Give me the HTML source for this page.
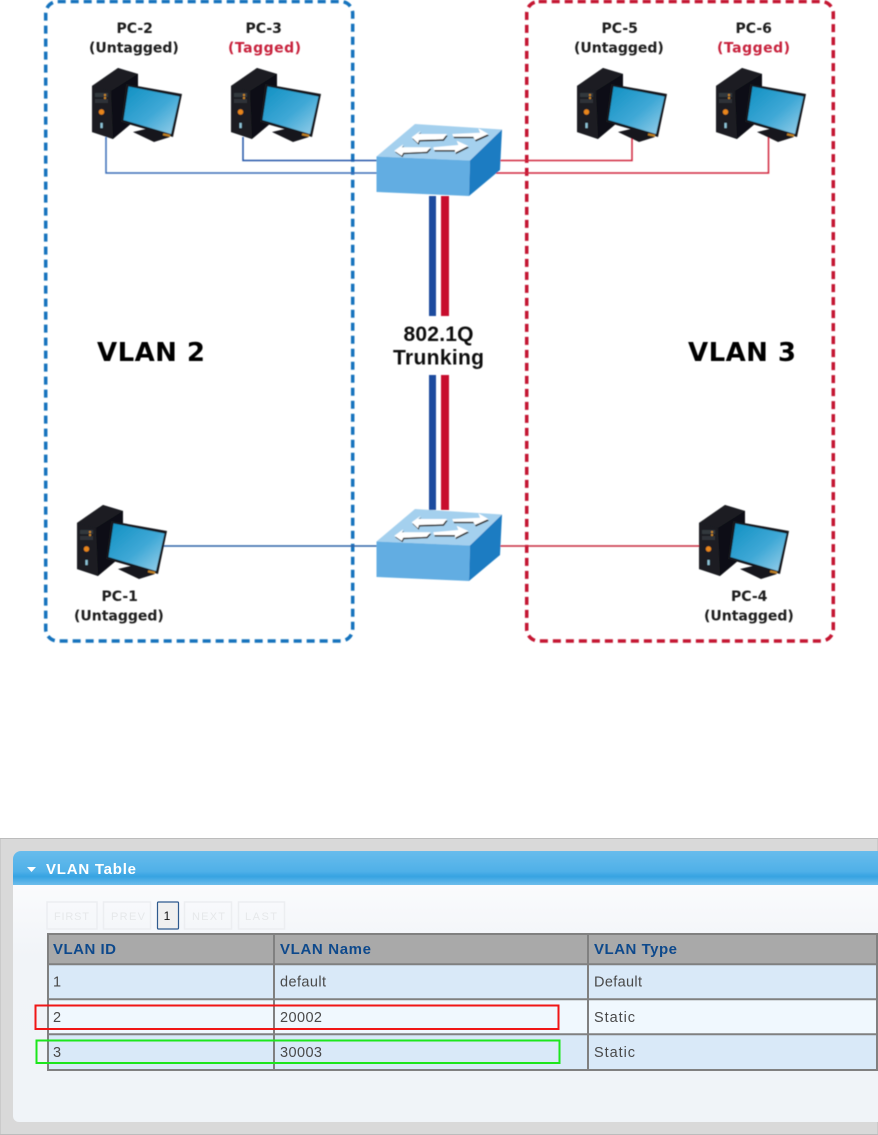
<!DOCTYPE html>
<html><head><meta charset="utf-8"><style>html,body{margin:0;padding:0;background:#fff}svg{display:block}
.b{font-family:"DejaVu Sans",sans-serif;font-weight:bold}
.t{font-family:"Liberation Sans",sans-serif;font-size:14.5px;fill:#4a4a4a}
.h{font-family:"Liberation Sans",sans-serif;font-weight:bold;font-size:15px;fill:#114a8c}
.g{font-family:"Liberation Sans",sans-serif;font-size:11px;fill:#e6e8ea}
</style></head><body>
<svg width="878" height="1135" viewBox="0 0 878 1135" xmlns="http://www.w3.org/2000/svg">
<defs>
<filter id="s1" x="0" y="0" width="878" height="1135" filterUnits="userSpaceOnUse"><feGaussianBlur stdDeviation="0.45"/></filter>
<filter id="s2" x="0" y="0" width="878" height="1135" filterUnits="userSpaceOnUse"><feGaussianBlur stdDeviation="0.3"/></filter>
<linearGradient id="scr" x1="0" y1="0" x2="1" y2="1"><stop offset="0" stop-color="#1090c2"/><stop offset=".55" stop-color="#3fa8d6"/><stop offset="1" stop-color="#9ad0ea"/></linearGradient>
<linearGradient id="hd" x1="0" y1="0" x2="0" y2="1"><stop offset="0" stop-color="#68bcec"/><stop offset=".6" stop-color="#4fb0e8"/><stop offset=".75" stop-color="#36a3e2"/><stop offset="1" stop-color="#6dbdec"/></linearGradient>
<linearGradient id="bd" x1="0" y1="0" x2="0" y2="1"><stop offset="0" stop-color="#fafbfd"/><stop offset=".3" stop-color="#f1f4f8"/><stop offset="1" stop-color="#f0f4f8"/></linearGradient>
<g id="pc">
<polygon points="0,18 26,0 46,6 46,50 21,71 0,64" fill="#0d0f12"/>
<polygon points="0,18 19,23 21,71 0,64" fill="#1b1e22"/>
<polygon points="0,18 26,0 46,6 19,23" fill="#1a1d21"/>
<rect x="3" y="25" width="13" height="4" fill="#33383e"/><rect x="3" y="31" width="13" height="4" fill="#2d3137"/>
<circle cx="13" cy="27" r="1.100" fill="#d08a20"/><circle cx="13" cy="30" r="1.100" fill="#d08a20"/>
<circle cx="9.500" cy="44" r="2.700" fill="#e8861a"/>
<rect x="8.500" y="55" width="2.200" height="5" fill="#8fc4d8"/>
<polygon points="41,64 58,60 78,69 62,74" fill="#16191d"/>
<polygon points="34,16 90,26 81,69 29,54" fill="#14181c"/>
<polygon points="36.500,18.500 87.500,28.500 79,66 31.500,52" fill="url(#scr)"/>
<rect x="71" y="66" width="7" height="2.200" fill="#c08020" transform="rotate(12 75 67)"/>
</g>
<g id="sw">
<polygon points="376.500,156.500 415,124 502,129.500 470,160.500" fill="#a4d0ee"/>
<polygon points="376.500,156.500 470,160.500 469,196 376.500,192" fill="#62ade2"/>
<polygon points="470,160.500 502,129.500 500,170 469,196" fill="#1f7cc2"/>
<g fill="#333" transform="translate(.8,1.600)">
<polygon points="411.700,137.300 420.700,130.700 418,134 447,134 443,139.300 419,140 418,143.300"/>
<polygon points="452.300,134 480,132.700 478.300,128.300 488.300,134 475,140 473.300,136.700 453.300,136.700"/>
<polygon points="394.300,150.700 403.300,144.300 401.700,147.300 430.700,147.300 426.700,151.700 403.300,152.700 401.700,155.700"/>
<polygon points="433.300,147.300 458.300,145 456.700,140.700 468.300,146 455,152.700 455,150 434,150"/>
</g>
<g fill="#fff">
<polygon points="411.700,137.300 420.700,130.700 418,134 447,134 443,139.300 419,140 418,143.300"/>
<polygon points="452.300,134 480,132.700 478.300,128.300 488.300,134 475,140 473.300,136.700 453.300,136.700"/>
<polygon points="394.300,150.700 403.300,144.300 401.700,147.300 430.700,147.300 426.700,151.700 403.300,152.700 401.700,155.700"/>
<polygon points="433.300,147.300 458.300,145 456.700,140.700 468.300,146 455,152.700 455,150 434,150"/>
</g></g>
</defs>
<g filter="url(#s1)">
<rect x="45.700" y="1.500" width="307" height="639.500" rx="12" fill="none" stroke="#1673bd" stroke-width="3.500" stroke-dasharray="8 5"/>
<rect x="526.700" y="1.500" width="306.600" height="639.500" rx="12" fill="none" stroke="#c41230" stroke-width="3.500" stroke-dasharray="8 5"/>
<g fill="none" stroke-width="1.500">
<path d="M106 137V173H378" stroke="#3a6db8"/><path d="M243 137V160.500H378" stroke="#2454a8"/>
<path d="M500 160.500H632V137" stroke="#d0273c"/><path d="M490 173H768.500V137" stroke="#d0273c"/>
<path d="M160 546H378" stroke="#2f62a8"/><path d="M500 546H700" stroke="#c8283c"/>
</g>
<use href="#pc" x="92" y="68"/><use href="#pc" x="231" y="68"/>
<use href="#pc" x="577" y="68"/><use href="#pc" x="716" y="68"/>
<use href="#pc" x="77" y="505"/><use href="#pc" x="699" y="505"/>
<rect x="429" y="196" width="7" height="120" fill="#1f4c9e"/><rect x="441" y="196" width="8" height="120" fill="#c8102e"/>
<rect x="429" y="375" width="7" height="135" fill="#1f4c9e"/><rect x="441" y="375" width="8" height="135" fill="#c8102e"/>
<use href="#sw"/><use href="#sw" y="385"/>
<g class="b" font-size="14" fill="#1a1a1a" text-anchor="start">
<text x="116.500" y="33">PC-2</text><text x="89" y="52.700">(Untagged)</text>
<text x="245.500" y="33">PC-3</text><text x="228" y="52.700" textLength="73" fill="#c8243c">(Tagged)</text>
<text x="601.500" y="33">PC-5</text><text x="574" y="52.700">(Untagged)</text>
<text x="735.500" y="33">PC-6</text><text x="717" y="52.700" textLength="73" fill="#c8243c">(Tagged)</text>
<text x="101.500" y="601">PC-1</text><text x="74" y="620.700">(Untagged)</text>
<text x="731" y="601">PC-4</text><text x="704" y="620.700">(Untagged)</text>
</g>
<text class="b" x="97" y="361" font-size="26" textLength="108" fill="#000">VLAN 2</text>
<text class="b" x="688" y="361" font-size="26" textLength="108" fill="#000">VLAN 3</text>
<text x="403.500" y="341" font-family="Liberation Sans,sans-serif" font-weight="bold" font-size="21" textLength="70" fill="#111">802.1Q</text>
<text x="393" y="364.500" font-family="Liberation Sans,sans-serif" font-weight="bold" font-size="21" textLength="91" fill="#111">Trunking</text>
</g>
<g filter="url(#s2)">
<rect x="0" y="838.500" width="878" height="296" fill="#d9d9d9" stroke="#bcbcbc"/>
<path d="M13 885V859a8 8 0 0 1 8-8H878V885Z" fill="url(#hd)"/>
<path d="M13 885H878V1122H19a6 6 0 0 1-6-6Z" fill="url(#bd)"/>
<polygon points="27,867 36,867 31.500,872" fill="#fff"/>
<text x="46" y="874" font-family="Liberation Sans,sans-serif" font-weight="bold" font-size="15" textLength="90" fill="#fff">VLAN Table</text>
<g fill="none" stroke="#eceef1" stroke-width="1.500">
<rect x="47" y="902" width="50" height="27"/><rect x="103.500" y="902" width="47" height="27"/>
<rect x="184.500" y="902" width="47" height="27"/><rect x="238.500" y="902" width="46" height="27"/>
</g>
<text class="g" x="54" y="920" textLength="35">FIRST</text><text class="g" x="111" y="920" textLength="34">PREV</text>
<text class="g" x="192" y="920" textLength="33">NEXT</text><text class="g" x="245" y="920" textLength="32">LAST</text>
<rect x="157.500" y="902" width="21" height="27" rx="1" fill="#f0f0f0" stroke="#2d5a8e" stroke-width="1.200"/>
<text x="167" y="920" font-family="Liberation Sans,sans-serif" font-size="12" fill="#111" text-anchor="middle">1</text>
<rect x="47" y="933" width="829" height="31" fill="#a9a9a9"/>
<rect x="47" y="964" width="829" height="35" fill="#d9e9f8"/>
<rect x="47" y="999" width="829" height="35" fill="#f0f8fe"/>
<rect x="47" y="1034" width="829" height="36" fill="#d9e9f8"/>
<g stroke="#808080" stroke-width="2" fill="none">
<path d="M48 934H877M48 964.300H877M48 999.300H877M48 1034.300H877M48 1070H877M48 933V1071M274 933V1071M588 933V1071M877 933V1071"/>
</g>
<g class="h"><text x="53" y="954" textLength="63">VLAN ID</text><text x="280" y="954" textLength="91">VLAN Name</text><text x="594" y="954" textLength="83">VLAN Type</text></g>
<g class="t">
<text x="53" y="986.500">1</text><text x="280" y="986.500" textLength="46">default</text><text x="594" y="986.500" textLength="48">Default</text>
<text x="53" y="1022">2</text><text x="280" y="1022" textLength="42">20002</text><text x="594" y="1022" textLength="41">Static</text>
<text x="53" y="1057">3</text><text x="280" y="1057" textLength="42">30003</text><text x="594" y="1057" textLength="41">Static</text>
</g>
<rect x="35.500" y="1005.500" width="523" height="23.500" fill="none" stroke="#f01414" stroke-width="2"/>
<rect x="36.500" y="1040.500" width="523" height="22.500" fill="none" stroke="#1ee61e" stroke-width="2"/>
</g>
</svg>
</body></html>
